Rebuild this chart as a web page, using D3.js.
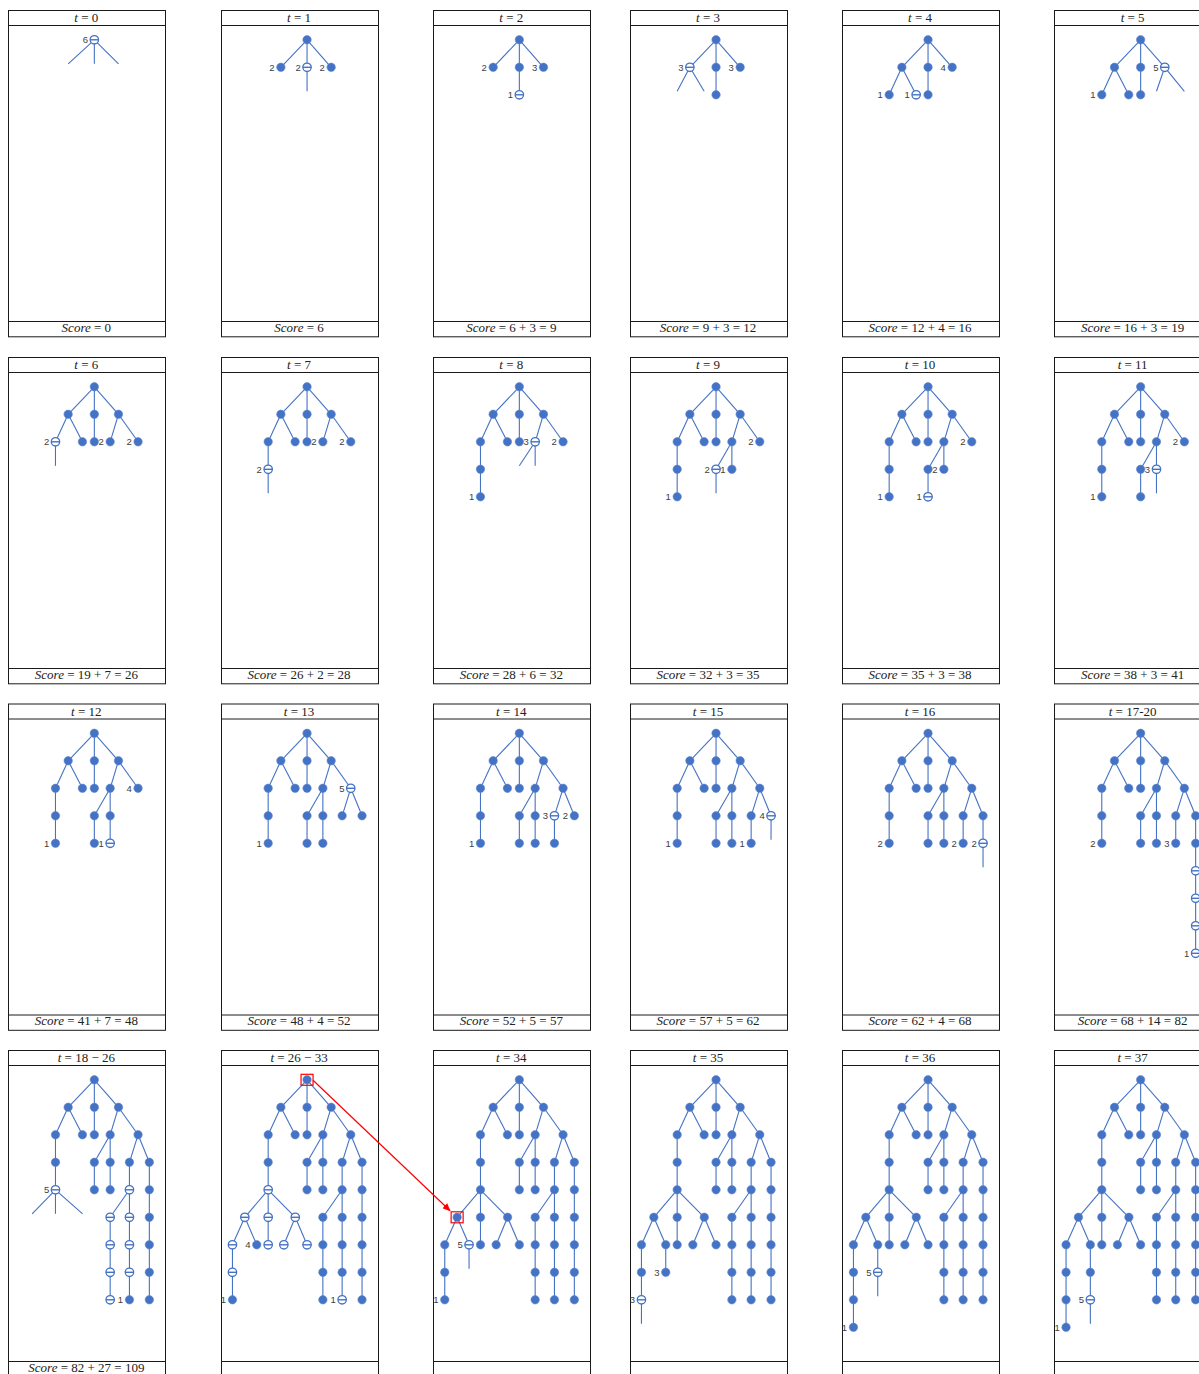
<!DOCTYPE html>
<html>
<head>
<meta charset="utf-8">
<script src="https://cdn.jsdelivr.net/npm/d3@7"></script>
<style>
  body { margin: 0; background: #fff; }
  svg { display: block; }
</style>
</head>
<body>
<svg id="svg" width="1199" height="1374"></svg>
<script>
// master tree: id, parent, slot (% of panel width), depth
const treeNodes = [
  ['R', null, 55.1, 0],
  ['A', 'R', 38.4, 1], ['B', 'R', 55.1, 1], ['C', 'R', 70.5, 1],
  ['A1', 'A', 30.3, 2], ['A2', 'A', 47.5, 2], ['B1', 'B', 55.1, 2],
  ['C1', 'C', 65.2, 2], ['C2', 'C', 83.0, 2],
  ['A1a', 'A1', 30.3, 3], ['A1b', 'A1a', 30.3, 4],
  ['C1a', 'C1', 55.1, 3], ['C1a2', 'C1a', 55.1, 4],
  ['C1b', 'C1', 65.2, 3], ['C1b2', 'C1b', 65.2, 4],
  ['C2a', 'C2', 77.5, 3], ['C2a2', 'C2a', 77.5, 4],
  ['C2b', 'C2', 90.2, 3], ['C2b2', 'C2b', 90.2, 4],
  ['C2b5', 'C2b2', 90.2, 5], ['C2b6', 'C2b5', 90.2, 6], ['C2b7', 'C2b6', 90.2, 7], ['C2b8', 'C2b7', 90.2, 8],
  ['Da5', 'C2a2', 65.2, 5], ['Da6', 'Da5', 65.2, 6], ['Da7', 'Da6', 65.2, 7], ['Da8', 'Da7', 65.2, 8],
  ['Db5', 'C2a2', 77.5, 5], ['Db6', 'Db5', 77.5, 6], ['Db7', 'Db6', 77.5, 7], ['Db8', 'Db7', 77.5, 8],
  ['E1', 'A1b', 15.4, 5], ['E2', 'A1b', 30.3, 5], ['E3', 'A1b', 47.6, 5],
  ['F1', 'E1', 7.5, 6], ['F2', 'E1', 23.0, 6], ['F3', 'E2', 30.3, 6], ['F4', 'E3', 40.3, 6], ['F5', 'E3', 55.1, 6],
  ['G1', 'F1', 7.5, 7], ['H1', 'G1', 7.5, 8], ['I1', 'H1', 7.5, 9],
  ['G2', 'F2', 23.0, 7], ['J2', 'G2', 23.0, 8], ['K2', 'J2', 23.0, 9]
];

const panelTitles = [
  '0', '1', '2', '3', '4', '5',
  '6', '7', '8', '9', '10', '11',
  '12', '13', '14', '15', '16', '17-20',
  '18 \u2212 26', '26 \u2212 33', '34', '35', '36', '37'
];

const panelScores = [
  '0', '6', '6 + 3 = 9', '9 + 3 = 12', '12 + 4 = 16', '16 + 3 = 19',
  '19 + 7 = 26', '26 + 2 = 28', '28 + 6 = 32', '32 + 3 = 35', '35 + 3 = 38', '38 + 3 = 41',
  '41 + 7 = 48', '48 + 4 = 52', '52 + 5 = 57', '57 + 5 = 62', '62 + 4 = 68', '68 + 14 = 82',
  '82 + 27 = 109', null, null, null, null, null
];

// node tokens: "id" full, "id~" expanded (half), ":n" label, "a>b" open branch toward b
const panelStates = [
  'R~:6 R>A R>B R>C',
  'R A:2 B~:2 C:2 B>B1',
  'R A:2 B C:3 B1~:1',
  'R A~:3 B C:3 B1 A>A1 A>A2',
  'R A B C:4 A1:1 A2~:1 B1',
  'R A B C~:5 A1:1 A2 B1 C>C1 C>C2',
  'R A B C A1~:2 A2 B1 C1:2 C2:2 A1>A1a',
  'R A B C A1 A2 B1 C1:2 C2:2 A1a~:2 A1a>A1b',
  'R A B C A1 A2 B1 C1~:3 C2:2 A1a A1b:1 C1>C1a C1>C1b',
  'R A B C A1 A2 B1 C1 C2:2 A1a A1b:1 C1a~:2 C1b:1 C1a>C1a2',
  'R A B C A1 A2 B1 C1 C2:2 A1a A1b:1 C1a C1b:2 C1a2~:1',
  'R A B C A1 A2 B1 C1 C2:2 A1a A1b:1 C1a C1b~:3 C1a2 C1b>C1b2',
  'R A B C A1 A2 B1 C1 C2:4 A1a A1b:1 C1a C1b C1a2 C1b2~:1',
  'R A B C A1 A2 B1 C1 C2~:5 A1a A1b:1 C1a C1b C1a2 C1b2 C2a C2b',
  'R A B C A1 A2 B1 C1 C2 A1a A1b:1 C1a C1b C1a2 C1b2 C2a~:3 C2b:2 C2a2',
  'R A B C A1 A2 B1 C1 C2 A1a A1b:1 C1a C1b C1a2 C1b2 C2a C2b~:4 C2a2:1 C2b>C2b2',
  'R A B C A1 A2 B1 C1 C2 A1a A1b:2 C1a C1b C1a2 C1b2 C2a C2b C2a2:2 C2b2~:2 C2b2>C2b5',
  'R A B C A1 A2 B1 C1 C2 A1a A1b:2 C1a C1b C1a2 C1b2 C2a C2b C2a2:3 C2b2 C2b5~ C2b6~ C2b7~ C2b8~:1',
  'R A B C A1 A2 B1 C1 C2 A1a A1b~:5 C1a C1b C1a2 C1b2 C2a C2b C2a2~ C2b2 C2b5 C2b6 C2b7 C2b8 Da5~ Da6~ Da7~ Da8~ Db5~ Db6~ Db7~ Db8:1 A1b>E1 A1b>E2 A1b>E3',
  'R A B C A1 A2 B1 C1 C2 A1a A1b~ C1a C1b C1a2 C1b2 C2a C2b C2a2 C2b2 C2b5 C2b6 C2b7 C2b8 Da5 Da6 Da7 Da8 Db5 Db6 Db7 Db8~:1 E1~ E2~ E3~ F1~ F2:4 F3~ F4~ F5~ G1~ H1:1',
  'R A B C A1 A2 B1 C1 C2 A1a A1b C1a C1b C1a2 C1b2 C2a C2b C2a2 C2b2 C2b5 C2b6 C2b7 C2b8 Da5 Da6 Da7 Da8 Db5 Db6 Db7 Db8 E1 E2 E3 F1 F2~:5 F3 F4 F5 G1 H1:1 F2>G2',
  'R A B C A1 A2 B1 C1 C2 A1a A1b C1a C1b C1a2 C1b2 C2a C2b C2a2 C2b2 C2b5 C2b6 C2b7 C2b8 Da5 Da6 Da7 Da8 Db5 Db6 Db7 Db8 E1 E2 E3 F1 F2 F3 F4 F5 G1 G2:3 H1~:3 H1>I1',
  'R A B C A1 A2 B1 C1 C2 A1a A1b C1a C1b C1a2 C1b2 C2a C2b C2a2 C2b2 C2b5 C2b6 C2b7 C2b8 Da5 Da6 Da7 Da8 Db5 Db6 Db7 Db8 E1 E2 E3 F1 F2 F3 F4 F5 G1 G2~:5 H1 I1:1 G2>J2',
  'R A B C A1 A2 B1 C1 C2 A1a A1b C1a C1b C1a2 C1b2 C2a C2b C2a2 C2b2 C2b5 C2b6 C2b7 C2b8 Da5 Da6 Da7 Da8 Db5 Db6 Db7 Db8 E1 E2 E3 F1 F2 F3 F4 F5 G1 G2 H1 I1:1 J2~:5 J2>K2'
];

// the node moved between two panels: [panel, node]
const moveFrom = [19, 'R'];
const moveTo = [20, 'E1'];

// layout
const colLeft = [8, 220.7, 433, 629.7, 841.7, 1054.3];
const rowTop = [10, 357, 703.5, 1050];
const PW = 156.7, PH = 326.3, TITLE_H = 15.3, SCORE_H = 15;
const BLUE = '#4472C4';
const R_NODE = 4.2;
const SERIF = '"Liberation Serif", "DejaVu Serif", serif';

const slotX = d3.scaleLinear().domain([0, 100]).range([0, PW]);
const depthY = d3.scaleLinear().domain([0, 1]).range([29.8, 29.8 + 27.5]);

const byId = new Map(treeNodes.map(d => [d[0], { id: d[0], parent: d[1], slot: d[2], depth: d[3] }]));

const svg = d3.select('#svg');
svg.append('rect').attr('width', 1199).attr('height', 1374).attr('fill', '#fff');

function parseState(str) {
  const shown = new Map();
  const stubs = [];
  str.split(' ').forEach(tok => {
    if (tok.includes('>')) {
      stubs.push(tok.split('>'));
      return;
    }
    let [name, label] = tok.split(':');
    const half = name.endsWith('~');
    if (half) name = name.slice(0, -1);
    shown.set(name, { half: half, label: label || null });
  });
  return { shown, stubs };
}

function nodePos(panel, id) {
  const n = byId.get(id);
  const left = colLeft[panel % 6], top = rowTop[Math.floor(panel / 6)];
  return [left + slotX(n.slot), top + depthY(n.depth)];
}

panelStates.forEach((str, i) => {
  const left = colLeft[i % 6], top = rowTop[Math.floor(i / 6)];
  const g = svg.append('g').attr('transform', 'translate(' + left + ',' + top + ')');
  const st = parseState(str);

  // frame
  const x0 = Math.round(left) + 0.5 - left, y0 = 0.5;
  const w = Math.round(PW);
  g.append('rect')
    .attr('x', x0).attr('y', y0)
    .attr('width', w).attr('height', PH)
    .attr('fill', 'none').attr('stroke', '#1a1a1a').attr('stroke-width', 1);
  [Math.round(TITLE_H) + 0.5, Math.round(PH - SCORE_H) + 0.5].forEach(yy => {
    g.append('line')
      .attr('x1', x0).attr('x2', x0 + w)
      .attr('y1', yy).attr('y2', yy)
      .attr('stroke', '#1a1a1a');
  });

  // title
  const title = g.append('text')
    .attr('x', PW / 2).attr('y', 12)
    .attr('text-anchor', 'middle')
    .style('font-family', SERIF)
    .style('font-size', '13px').attr('fill', '#222');
  title.append('tspan').style('font-style', 'italic').text('t');
  title.append('tspan').text(' = ' + panelTitles[i]);

  if (panelScores[i] !== null) {
    const sc = g.append('text')
      .attr('x', PW / 2).attr('y', PH - 4.8)
      .attr('text-anchor', 'middle')
      .style('font-family', SERIF)
      .style('font-size', '13px').attr('fill', '#222');
    sc.append('tspan').style('font-style', 'italic').text('Score');
    sc.append('tspan').text(' = ' + panelScores[i]);
  }

  const nodes = Array.from(st.shown.entries()).map(([id, v]) => Object.assign({}, byId.get(id), v));

  // edges
  const edges = nodes.filter(d => d.parent && st.shown.has(d.parent))
    .map(d => ({ s: byId.get(d.parent), t: d }));
  g.append('g').selectAll('line').data(edges).join('line')
    .attr('x1', d => slotX(d.s.slot)).attr('y1', d => depthY(d.s.depth))
    .attr('x2', d => slotX(d.t.slot)).attr('y2', d => depthY(d.t.depth))
    .attr('stroke', BLUE).attr('stroke-width', 1.1);

  // open branches (not yet visited)
  g.append('g').selectAll('line').data(st.stubs).join('line')
    .attr('x1', d => slotX(byId.get(d[0]).slot)).attr('y1', d => depthY(byId.get(d[0]).depth))
    .attr('x2', d => slotX(byId.get(d[1]).slot)).attr('y2', d => depthY(byId.get(d[1]).depth) - 3.5)
    .attr('stroke', BLUE).attr('stroke-width', 1.1);

  // nodes
  const ng = g.append('g').selectAll('g').data(nodes).join('g')
    .attr('transform', d => 'translate(' + slotX(d.slot) + ',' + depthY(d.depth) + ')');
  ng.append('circle')
    .attr('r', R_NODE)
    .attr('fill', d => d.half ? '#fff' : BLUE)
    .attr('stroke', d => d.half ? BLUE : '#5f88cf')
    .attr('stroke-width', d => d.half ? 1.3 : 0.6);
  ng.filter(d => d.half).append('line')
    .attr('x1', -R_NODE).attr('x2', R_NODE).attr('y1', 0).attr('y2', 0)
    .attr('stroke', BLUE).attr('stroke-width', 1.4);

  // value labels
  g.append('g').selectAll('text').data(nodes.filter(d => d.label)).join('text')
    .attr('x', d => slotX(d.slot) - 6.3)
    .attr('y', d => depthY(d.depth))
    .attr('dy', '0.35em')
    .attr('text-anchor', 'end')
    .style('font-family', '"Liberation Sans", Arial, sans-serif')
    .style('font-size', '9.5px')
    .attr('fill', '#404040')
    .text(d => d.label);
});

// red move annotation
svg.append('defs').append('marker')
  .attr('id', 'arrow').attr('markerUnits', 'userSpaceOnUse')
  .attr('markerWidth', 8).attr('markerHeight', 7)
  .attr('refX', 7.5).attr('refY', 3.5).attr('orient', 'auto')
  .append('path').attr('d', 'M0,0 L8,3.5 L0,7 Z').attr('fill', '#ff0000');

const p1 = nodePos(moveFrom[0], moveFrom[1]);
const p2 = nodePos(moveTo[0], moveTo[1]);
[p1, p2].forEach(p => {
  svg.append('rect')
    .attr('x', p[0] - 6).attr('y', p[1] - 5.5)
    .attr('width', 12).attr('height', 11)
    .attr('fill', 'none').attr('stroke', '#ff0000').attr('stroke-width', 1.2);
});
svg.append('line')
  .attr('x1', p1[0] + 6).attr('y1', p1[1] + 0.5)
  .attr('x2', p2[0] - 7).attr('y2', p2[1] - 6.5)
  .attr('stroke', '#ff0000').attr('stroke-width', 1.2)
  .attr('marker-end', 'url(#arrow)');
</script>
</body>
</html>
